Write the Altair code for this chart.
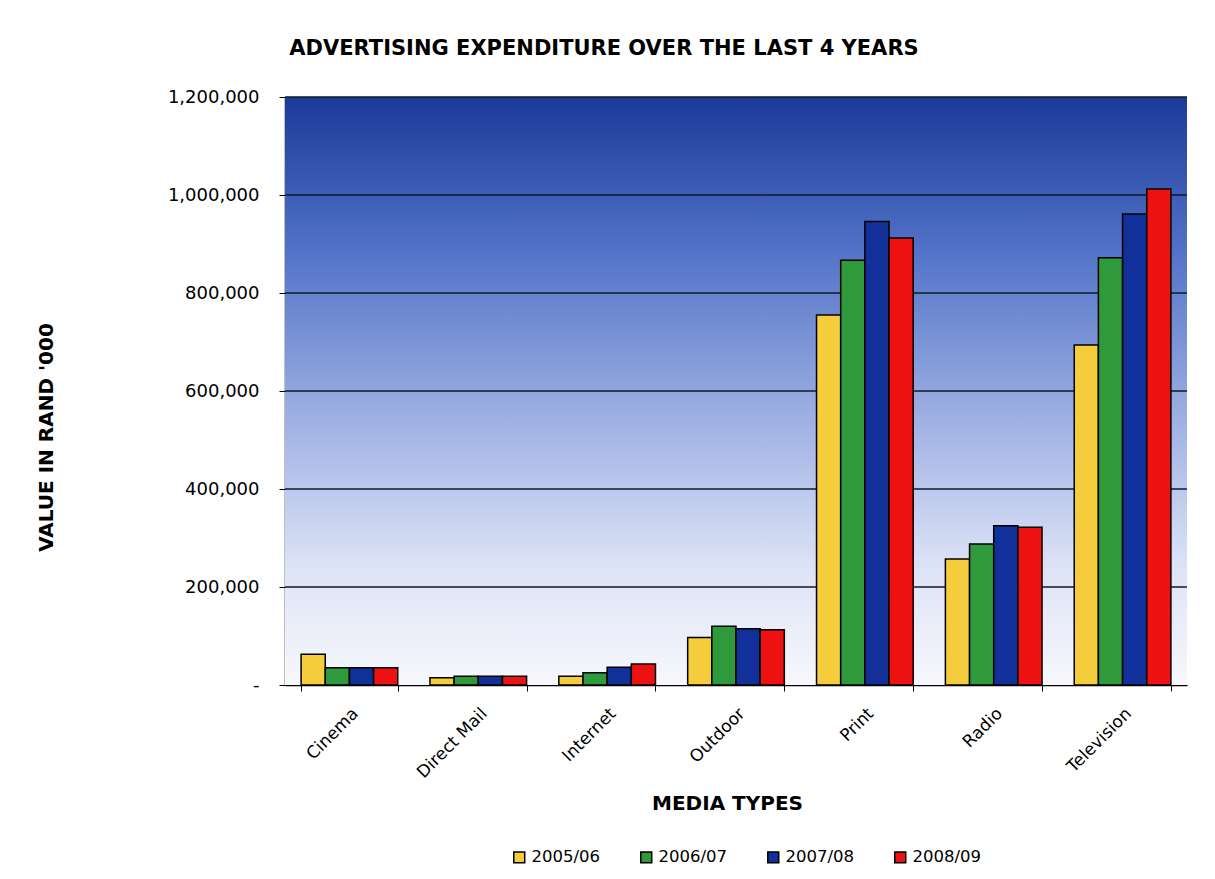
import altair as alt
import pandas as pd

categories = ["Cinema", "Direct Mail", "Internet", "Outdoor", "Print", "Radio", "Television"]
years = ["2005/06", "2006/07", "2007/08", "2008/09"]
v_2005 = [63000, 15000, 18000, 97000, 755000, 257000, 694000]
v_2006 = [35000, 18000, 25000, 120000, 867000, 288000, 872000]
v_2007 = [35000, 18000, 36000, 115000, 946000, 325000, 961000]
v_2008 = [35000, 18000, 43000, 113000, 912000, 322000, 1012000]
colors = ["#f5cd3c", "#2f9a3c", "#12309a", "#ee1111"]
y_ticks = [0, 200000, 400000, 600000, 800000, 1000000, 1200000]

rows = []
for yr, vals in zip(years, [v_2005, v_2006, v_2007, v_2008]):
    for c, v in zip(categories, vals):
        rows.append({"Media": c, "Year": yr, "Value": v})
df = pd.DataFrame(rows)
grid_df = pd.DataFrame({"Value": y_ticks[1:]})

W, H = 902, 588
FONT = "DejaVu Sans"

yscale = alt.Scale(domain=[0, 1200000], nice=False)
yaxis = alt.Axis(title="VALUE IN RAND '000", values=y_ticks,
                 labelExpr="datum.value == 0 ? '-' : format(datum.value, ',')",
                 grid=False,
                 tickColor="black", tickSize=6, domainColor="black", domainWidth=1.5,
                 labelFont=FONT, labelFontSize=18, labelColor="black", labelPadding=20,
                 titleFont=FONT, titleFontSize=20, titleFontWeight="bold",
                 titleColor="black", titleX=-239, titleY=340,
                 titleBaseline="middle", titleAngle=270)

bg = alt.Chart(pd.DataFrame({"a": [0]})).mark_rect(
    fill=alt.Gradient(
        gradient="linear",
        stops=[
            alt.GradientStop(color="#1b3a98", offset=0),
            alt.GradientStop(color="#4f70c6", offset=0.25),
            alt.GradientStop(color="#9fb1e4", offset=0.55),
            alt.GradientStop(color="#dde3f6", offset=0.8),
            alt.GradientStop(color="#f7f8fc", offset=1),
        ],
        x1=0, x2=0, y1=0, y2=1,
    )
).encode(x=alt.value(0), x2=alt.value(W), y=alt.value(0), y2=alt.value(H))

grid = alt.Chart(grid_df).mark_rule(color="#101828", strokeWidth=1.6).encode(
    y=alt.Y("Value:Q", scale=yscale, axis=yaxis),
    x=alt.value(0), x2=alt.value(W),
)

bars = alt.Chart(df).mark_bar(stroke="black", strokeWidth=1.5).encode(
    x=alt.X("Media:N", sort=categories,
            scale=alt.Scale(paddingInner=0.25, paddingOuter=0.125),
            axis=alt.Axis(title="MEDIA TYPES", labelAngle=-45, labelAlign="right",
                          labelBaseline="top", tickBand="extent", tickSize=6,
                          tickColor="black", domainColor="black", domainWidth=1.5,
                          labelFont=FONT, labelFontSize=17, labelColor="black",
                          labelPadding=14,
                          titleFont=FONT, titleFontSize=20, titleFontWeight="bold",
                          titleColor="black", titleX=442, titleY=118,
                          titleBaseline="middle")),
    xOffset=alt.XOffset("Year:N", sort=years),
    y=alt.Y("Value:Q", scale=yscale, axis=yaxis),
    color=alt.Color("Year:N", sort=years,
                    scale=alt.Scale(domain=years, range=colors),
                    legend=alt.Legend(title=None, orient="none", direction="horizontal",
                                      legendX=226, legendY=752, symbolType="square",
                                      symbolSize=120, symbolStrokeColor="black",
                                      symbolStrokeWidth=1.5, labelFont=FONT,
                                      labelFontSize=16.5, labelColor="black",
                                      columnPadding=36, symbolOffset=0, labelOffset=4)),
)

chart = alt.layer(bg, grid, bars).properties(
    width=W, height=H,
    title=alt.TitleParams("ADVERTISING EXPENDITURE OVER THE LAST 4 YEARS",
                          font=FONT, fontSize=21, fontWeight="bold", color="black",
                          anchor="middle", frame="group", dx=-132, offset=29),
    autosize=alt.AutoSizeParams(type="none"),
    padding={"left": 285, "top": 97, "right": 28, "bottom": 194},
    background="white",
).resolve_axis(y="shared").configure_view(stroke=None)

chart.save("out.html", embed_options={"renderer": "svg", "actions": False})
